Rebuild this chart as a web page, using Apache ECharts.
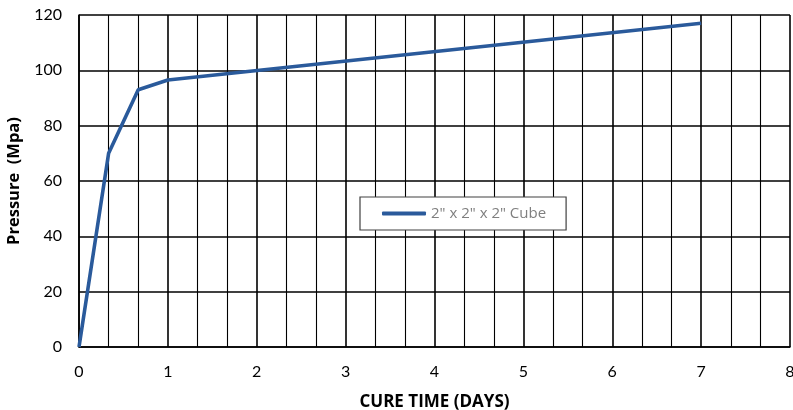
<!DOCTYPE html>
<html><head><meta charset="utf-8">
<script src="https://cdn.jsdelivr.net/npm/echarts@6/dist/echarts.min.js"></script>
<style>html,body{margin:0;padding:0;background:#fff}#c{width:793px;height:410px}</style>
</head><body><div id="c"></div>
<script>
const seriesName = '2" x 2" x 2" Cube';
const cureDays = [0, 1/3, 2/3, 1, 7];
const pressure = [0, 70, 93, 96.5, 117];

const chart = echarts.init(document.getElementById('c'), null, {renderer: 'canvas'});
chart.setOption({
  animation: false,
  grid: {left: 79, right: 3, top: 15, bottom: 63, outerBoundsMode: 'none', containLabel: false},
  legend: {
    left: 360, top: 197,
    padding: [9, 20, 9, 22],
    backgroundColor: '#fff', borderColor: '#404040', borderWidth: 1.2,
    icon: 'roundRect', itemWidth: 44, itemHeight: 4, itemGap: 2,
    textStyle: {color: '#7f7f7f', fontFamily: 'Open Sans, sans-serif', fontSize: 15},
    data: [seriesName]
  },
  xAxis: {
    type: 'value', min: 0, max: 8, interval: 1,
    name: 'CURE TIME (DAYS)', nameLocation: 'middle', nameGap: 47,
    nameTextStyle: {fontFamily: 'Open Sans, sans-serif', fontWeight: 'bold', fontSize: 17, color: '#000'},
    axisLine: {show: true, lineStyle: {color: '#000', width: 1.5}},
    axisTick: {show: false},
    axisLabel: {color: '#000', fontFamily: 'Lato, sans-serif', fontSize: 16, margin: 17},
    splitLine: {show: true, lineStyle: {color: '#000', width: 1.6}},
    minorTick: {show: false, splitNumber: 3},
    minorSplitLine: {show: true, lineStyle: {color: '#000', width: 1.1}}
  },
  yAxis: {
    type: 'value', min: 0, max: 120, interval: 20,
    name: 'Pressure  (Mpa)', nameLocation: 'middle', nameGap: 51,
    nameTextStyle: {fontFamily: 'Open Sans, sans-serif', fontWeight: 'bold', fontSize: 16.5, color: '#000'},
    axisLine: {show: true, lineStyle: {color: '#000', width: 1.5}},
    axisTick: {show: false},
    axisLabel: {color: '#000', fontFamily: 'Lato, sans-serif', fontSize: 16, margin: 17},
    splitLine: {show: true, lineStyle: {color: '#000', width: 1.6}}
  },
  series: [{
    name: seriesName, type: 'line',
    data: cureDays.map((d, i) => [d, pressure[i]]),
    showSymbol: false, symbol: 'none',
    lineStyle: {color: '#2a5a9b', width: 3.6},
    itemStyle: {color: '#2a5a9b'}
  }]
});
</script></body></html>
